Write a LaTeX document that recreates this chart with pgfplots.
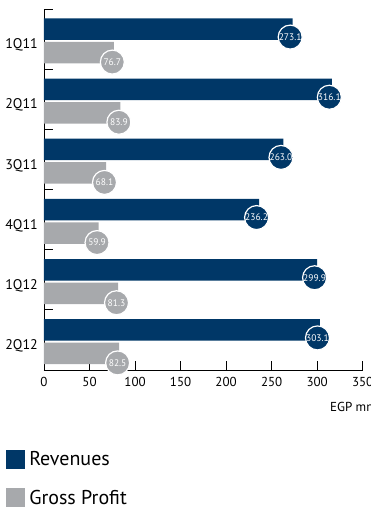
\documentclass[border=0pt]{standalone}
\usepackage{pgfplots}
\pgfplotsset{compat=1.18}
\usepackage{fontspec}
\setmainfont{PT Sans}
\definecolor{navy}{HTML}{003767}
\definecolor{gp}{HTML}{A7A9AC}
\begin{document}
\begin{tikzpicture}
\begin{axis}[
  scale only axis, width=318.7pt, height=361pt,
  xmin=0, xmax=350, ymin=-0.5, ymax=5.5,
  xbar, bar width=21.5pt,
  axis x line*=bottom, axis y line*=left,
  axis line style={black, line width=0.9pt},
  /pgf/number format/assume math mode=true,
  xtick={0,50,...,350},
  ytick={-0.5,0.5,1.5,2.5,3.5,4.5,5.5},
  yticklabels={},
  extra y ticks={0,1,2,3,4,5},
  extra y tick labels={2Q12,1Q12,4Q11,3Q11,2Q11,1Q11},
  extra y tick style={major tick length=0pt, yticklabel style={inner sep=0pt, anchor=east, xshift=-6pt, yshift=-6pt, font=\fontsize{14}{16}\selectfont}},
  tick align=inside,
  major tick length=9pt,
  tick style={black, line width=0.9pt},
  xticklabel style={inner sep=0pt, anchor=north, yshift=-7pt, font=\fontsize{13}{15}\selectfont},
  xlabel={EGP mn},
  xlabel style={at={(axis description cs:0.897,-0.1025)}, anchor=west, inner sep=0pt, font=\fontsize{13}{15}\selectfont},
  point meta=x,
  nodes near coords={\pgfmathprintnumber[fixed,fixed zerofill,precision=1]{\pgfplotspointmeta}},
  legend image code/.code={\fill[#1] (0pt,-9.5pt) rectangle (19pt,9.5pt);},
  legend cell align=left,
  legend style={draw=none, fill=none, at={(axis description cs:-0.119,-0.219)}, anchor=north west, inner sep=0pt, row sep=19pt, column sep=2pt, font=\fontsize{20}{24}\selectfont},
]
\addplot[fill=navy, draw=none, bar shift=10pt,
  every node near coord/.append style={circle, fill=navy, draw=white, line width=1.2pt, text=white, inner sep=0pt, minimum size=24pt, anchor=center, font=\fontsize{9.5}{10}\selectfont, xshift=-2.5pt, yshift=-8pt}]
  coordinates {(273.1,5) (316.1,4) (263.0,3) (236.2,2) (299.9,1) (303.1,0)};
\addplot[fill=gp, draw=none, bar shift=-13.5pt,
  every node near coord/.append style={circle, fill=gp, draw=white, line width=1.2pt, text=white, inner sep=0pt, minimum size=24pt, anchor=center, font=\fontsize{9.5}{10}\selectfont, xshift=-1.5pt, yshift=-9.5pt}]
  coordinates {(76.7,5) (83.9,4) (68.1,3) (59.9,2) (81.3,1) (82.5,0)};
\legend{Revenues, Gross Profit}
\end{axis}
\pgfresetboundingbox
\path[use as bounding box] (-44pt,-139pt) rectangle (327pt,370pt);
\end{tikzpicture}
\end{document}
